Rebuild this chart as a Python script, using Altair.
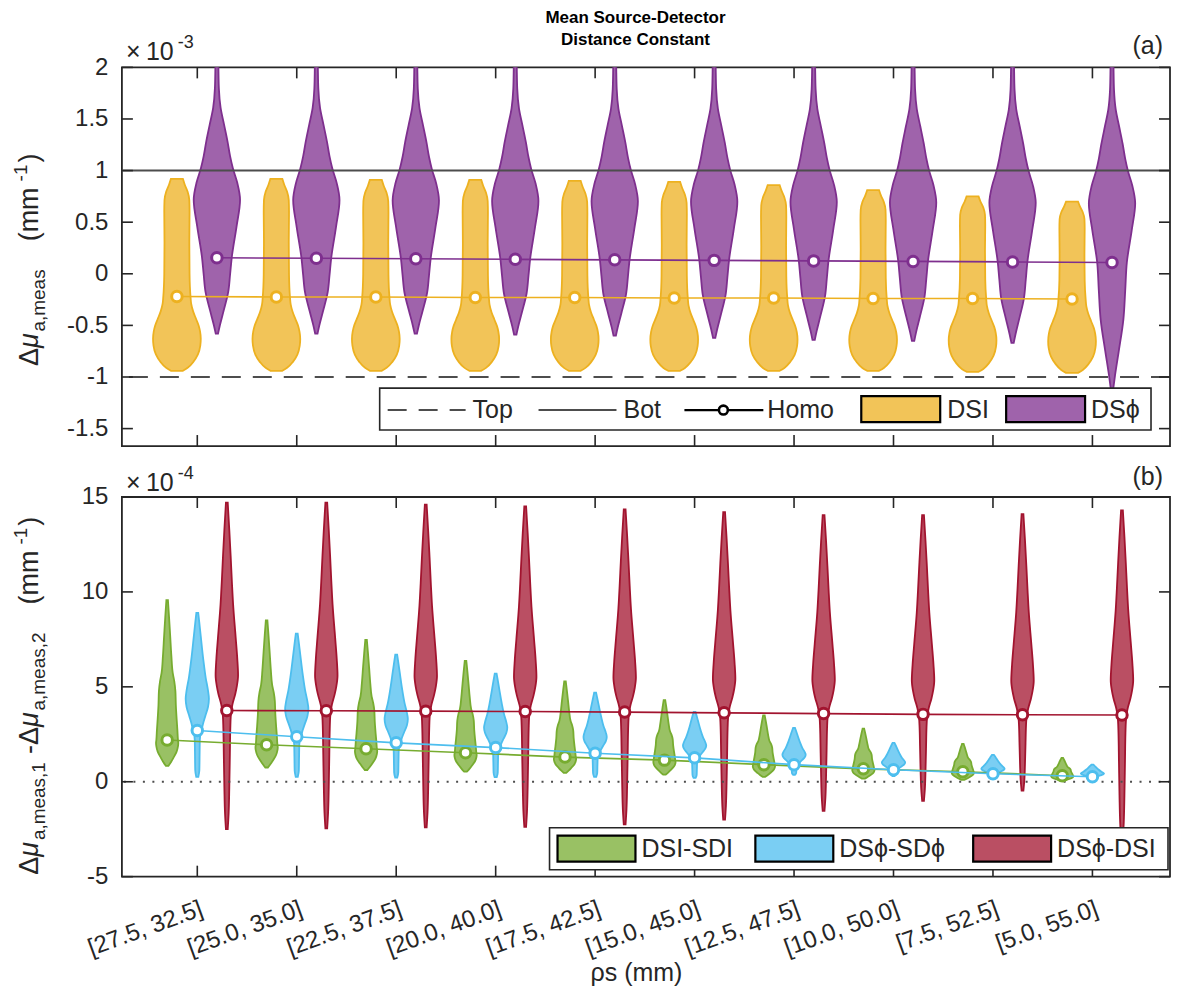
import json
import altair as alt
import pandas as pd

# ---------------- data ----------------
groups = ["[27.5, 32.5]", "[25.0, 35.0]", "[22.5, 37.5]", "[20.0, 40.0]", "[17.5, 42.5]",
          "[15.0, 45.0]", "[12.5, 47.5]", "[10.0, 50.0]", "[7.5, 52.5]", "[5.0, 55.0]"]

# panel (a), units of 1e-3 mm^-1
dsi_bottom = [-0.94, -0.94, -0.94, -0.94, -0.94, -0.94, -0.94, -0.94, -0.95, -0.96]
dsi_median = [-0.22, -0.225, -0.225, -0.23, -0.23, -0.235, -0.235, -0.24, -0.24, -0.245]
dsi_top = [0.92, 0.92, 0.91, 0.91, 0.90, 0.89, 0.86, 0.81, 0.75, 0.70]

dsphi_bottom = [-0.58, -0.58, -0.58, -0.59, -0.60, -0.62, -0.64, -0.65, -0.67, -1.12]
dsphi_median = [0.155, 0.15, 0.145, 0.14, 0.135, 0.13, 0.125, 0.12, 0.115, 0.11]
dsphi_top = [2.5, 2.5, 2.5, 2.5, 2.5, 2.5, 2.5, 2.5, 2.5, 2.5]

ref_top = [-1.0]   # dashed
ref_bot = [1.0]    # solid

# panel (b), units of 1e-4 mm^-1
g_bottom = [0.84, 0.75, 0.62, 0.53, 0.47, 0.38, 0.26, 0.16, 0.10, 0.05]
g_median = [2.2, 1.95, 1.74, 1.53, 1.3, 1.14, 0.9, 0.68, 0.53, 0.32]
g_top = [9.56, 8.5, 7.47, 6.37, 5.28, 4.3, 3.5, 2.8, 2.0, 1.26]

b_bottom = [0.26, 0.26, 0.22, 0.24, 0.26, 0.2, 0.37, 0.3, 0.15, 0.1]
b_median = [2.7, 2.37, 2.05, 1.8, 1.5, 1.26, 0.9, 0.63, 0.42, 0.26]
b_top = [8.9, 7.8, 6.7, 5.7, 4.7, 3.68, 2.84, 2.05, 1.42, 0.9]

r_bottom = [-2.5, -2.45, -2.4, -2.37, -2.25, -2.0, -1.53, -1.0, -0.47, -3.0]
r_median = [3.75, 3.74, 3.72, 3.70, 3.67, 3.63, 3.59, 3.55, 3.53, 3.52]
r_top = [14.7, 14.7, 14.6, 14.5, 14.35, 14.2, 14.05, 14.05, 14.1, 14.3]

ref_zero = [0.0]

# violin outlines: s=-1 bottom, 0 median, 1 top; w = relative half width
dsi_s = [-1, -0.96, -0.875, -0.78, -0.66, -0.57, -0.47, -0.39, -0.3, -0.2, -0.1, 0, 0.19, 0.46, 0.72, 0.82, 0.89, 0.95, 1]
dsi_w = [0.25, 0.45, 0.70, 0.88, 0.98, 1.0, 0.97, 0.91, 0.8, 0.68, 0.6, 0.57, 0.53, 0.52, 0.53, 0.52, 0.45, 0.33, 0.25]
dsphi_s = [-1, -0.89, -0.70, -0.45, -0.22, 0, 0.13, 0.24, 0.31, 0.37, 0.42, 0.48, 0.55, 0.62, 0.70, 0.79, 1]
dsphi_w = [0.05, 0.13, 0.29, 0.49, 0.57, 0.64, 0.85, 1.0, 0.88, 0.69, 0.57, 0.46, 0.31, 0.16, 0.086, 0.065, 0.04]
g_s = [-1, -0.85, -0.7, -0.45, -0.25, -0.12, 0, 0.07, 0.14, 0.25, 0.35, 0.42, 0.48, 0.6, 0.75, 0.88, 1]
g_w = [0.12, 0.35, 0.55, 0.85, 0.97, 1.0, 0.97, 0.92, 0.86, 0.78, 0.74, 0.64, 0.5, 0.38, 0.27, 0.17, 0.07]
b_s = [-1, -0.85, -0.5, -0.2, -0.05, 0, 0.06, 0.12, 0.2, 0.27, 0.34, 0.45, 0.6, 0.8, 0.92, 1]
b_w = [0.09, 0.18, 0.2, 0.22, 0.3, 0.36, 0.5, 0.68, 0.92, 1.0, 0.92, 0.72, 0.52, 0.3, 0.17, 0.08]
r_s = [-1, -0.87, -0.65, -0.37, -0.15, -0.05, 0, 0.03, 0.08, 0.12, 0.17, 0.25, 0.35, 0.51, 0.62, 0.745, 0.87, 1]
r_w = [0.08, 0.16, 0.22, 0.27, 0.31, 0.35, 0.4, 0.5, 0.75, 0.9, 1.0, 0.93, 0.79, 0.56, 0.45, 0.34, 0.22, 0.08]

# ---------------- helpers ----------------
W, H1, H2 = 1049, 379, 380
AX = "#262626"
FONT = "Liberation Sans"
FS = 24
xs = alt.Scale(domain=[0.242, 10.78], nice=False, zero=False)
ys1 = alt.Scale(domain=[-1.669, 2], nice=False, zero=False)
ys2 = alt.Scale(domain=[-5, 15], nice=False, zero=False)

label_arr = json.dumps(groups)
xaxis_b = alt.Axis(values=list(range(1, 11)), labelExpr=label_arr + "[datum.value - 1]",
                   labelAngle=340, labelAlign="right", labelBaseline="top", labelPadding=20,
                   labelOverlap=False, labelBound=False,
                   labelFontSize=FS, labelColor=AX, labelFont=FONT, ticks=False, domain=False,
                   grid=False, title=None)
yaxis1 = alt.Axis(values=[-1.5, -1, -0.5, 0, 0.5, 1, 1.5, 2], labelExpr="'' + datum.value",
                  labelFontSize=FS, labelColor=AX, labelFont=FONT, labelPadding=14, ticks=False,
                  labelOverlap=False, domain=False, grid=False, title=None)
yaxis2 = alt.Axis(values=[-5, 0, 5, 10, 15], labelExpr="'' + datum.value",
                  labelFontSize=FS, labelColor=AX, labelFont=FONT, labelPadding=14, ticks=False,
                  labelOverlap=False, domain=False, grid=False, title=None)


def violin_df(name, bottoms, medians, tops, prof_s, prof_w, offset, half):
    rows = []
    for i in range(len(groups)):
        c = i + 1 + offset
        for k, (s, w) in enumerate(zip(prof_s, prof_w)):
            if s < 0:
                y = medians[i] + s * (medians[i] - bottoms[i])
            else:
                y = medians[i] + s * (tops[i] - medians[i])
            rows.append({"vid": f"{name}{i}", "idx": k, "y": y,
                         "xl": c - w * half, "xr": c + w * half})
    return pd.DataFrame(rows)


def med_df(medians, offset):
    return pd.DataFrame({"x": [i + 1 + offset for i in range(len(groups))], "y": medians})


def violin_layer(df, fill, stroke, ys, xaxis, yaxis):
    return alt.Chart(df).mark_area(orient="horizontal", interpolate="monotone", fill=fill,
                                   fillOpacity=1, stroke=stroke, strokeWidth=1.8, clip=True).encode(
        y=alt.Y("y:Q", scale=ys, axis=yaxis),
        x=alt.X("xl:Q", scale=xs, axis=xaxis),
        x2="xr:Q",
        detail="vid:N",
    )


def med_layers(df, color, ys, xaxis, yaxis):
    line = alt.Chart(df).mark_line(color=color, strokeWidth=1.6, clip=True).encode(
        x=alt.X("x:Q", scale=xs, axis=xaxis), y=alt.Y("y:Q", scale=ys, axis=yaxis))
    pts = alt.Chart(df).mark_circle(fill="white", stroke=color, strokeWidth=3, size=110,
                                    opacity=1, clip=True).encode(
        x=alt.X("x:Q", scale=xs, axis=xaxis), y=alt.Y("y:Q", scale=ys, axis=yaxis))
    return [line, pts]


one = pd.DataFrame({"k": [0]})


def txt(t, x, y, size=FS, align="left", baseline="alphabetic", weight="normal", color=AX,
        angle=0, dx=0, dy=0, style="normal"):
    kw = dict(text=t, align=align, baseline=baseline, fontSize=size, font=FONT,
              fontWeight=weight, color=color, fontStyle=style)
    if angle:
        kw["angle"] = angle
    if dx:
        kw["dx"] = dx
    if dy:
        kw["dy"] = dy
    return alt.Chart(one).mark_text(**kw).encode(x=alt.value(x), y=alt.value(y))


# approximate Arial advance widths (em) used to lay out the rotated axis titles
EM = {"Δ": .668, "μ": .576, "a": .556, "m": .833, "e": .556, "s": .5, ",": .278, "1": .556,
      "2": .556, "-": .333, "(": .333, ")": .333, " ": .278}


def rotated_title(pieces, x_base, y_start):
    """pieces: (text, size, dy, style, gap_before) laid out upward along a 270° baseline."""
    out, acc = [], 0.0
    for t, size, dy, style, gap in pieces:
        acc += gap
        out.append(txt(t, x_base, y_start, size, angle=270, dx=acc, dy=dy, style=style))
        acc += sum(EM.get(ch, .55) for ch in t) * size
    return out


MAIN, SUB = 27, 19


def ytitle_pieces(sub_parts):
    p = []
    for j, sub in enumerate(sub_parts):
        if j > 0:
            p.append(("-", MAIN, 0, "normal", 8))
        p.append(("Δ", MAIN, 0, "normal", 0))
        p.append(("μ", MAIN, 0, "italic", 0))
        p.append((sub, SUB, 7, "normal", 1))
    p += [("(mm", MAIN, 0, "normal", 28), ("-1", SUB, -11, "normal", 6), (")", MAIN, 0, "normal", 2)]
    return p


def box(x, x2, y, y2, fill, stroke=AX, sw=1.6):
    return alt.Chart(one).mark_rect(fill=fill, stroke=stroke, strokeWidth=sw).encode(
        x=alt.value(x), x2=alt.value(x2), y=alt.value(y), y2=alt.value(y2))


def seg(x, x2, y, color, sw=2, dash=None):
    kw = dict(color=color, strokeWidth=sw)
    if dash:
        kw["strokeDash"] = dash
    return alt.Chart(one).mark_rule(**kw).encode(x=alt.value(x), x2=alt.value(x2), y=alt.value(y))


def frame_ticks(ys, yvals, xaxis, yaxis, H):
    tx = pd.DataFrame({"x": list(range(1, 11))})
    ty = pd.DataFrame({"y": yvals})
    L = 11
    out = []
    for (a, b) in [(0, L), (H - L, H)]:
        out.append(alt.Chart(tx).mark_rule(color=AX, strokeWidth=1.6).encode(
            x=alt.X("x:Q", scale=xs, axis=xaxis), y=alt.value(a), y2=alt.value(b)))
    for (a, b) in [(0, L), (W - L, W)]:
        out.append(alt.Chart(ty).mark_rule(color=AX, strokeWidth=1.6).encode(
            y=alt.Y("y:Q", scale=ys, axis=yaxis), x=alt.value(a), x2=alt.value(b)))
    return out


LF = 25  # legend font

# ---------------- panel (a) ----------------
C_DSI, F_DSI = "#EDB120", "#F2C458"
C_PHI, F_PHI = "#7E2F8E", "#9F63AB"
REF = "#4D4D4D"

xa = None
top_layers = [
    violin_layer(violin_df("dsi", dsi_bottom, dsi_median, dsi_top, dsi_s, dsi_w, -0.205, 0.24),
                 F_DSI, C_DSI, ys1, xa, yaxis1),
    violin_layer(violin_df("phi", dsphi_bottom, dsphi_median, dsphi_top, dsphi_s, dsphi_w, 0.197, 0.233),
                 F_PHI, C_PHI, ys1, xa, yaxis1),
    alt.Chart(pd.DataFrame({"y": ref_bot})).mark_rule(color=REF, strokeWidth=2).encode(
        y=alt.Y("y:Q", scale=ys1, axis=yaxis1)),
    alt.Chart(pd.DataFrame({"y": ref_top})).mark_rule(color=REF, strokeWidth=2, strokeDash=[19, 12]).encode(
        y=alt.Y("y:Q", scale=ys1, axis=yaxis1)),
]
top_layers += med_layers(med_df(dsi_median, -0.205), C_DSI, ys1, xa, yaxis1)
top_layers += med_layers(med_df(dsphi_median, 0.197), C_PHI, ys1, xa, yaxis1)
top_layers += frame_ticks(ys1, [-1.5, -1, -0.5, 0, 0.5, 1, 1.5, 2], xa, yaxis1, H1)
# legend (a)
top_layers += [
    box(258, 1030, 321, 363, "white"),
    seg(266, 344, 343, REF, 2, [19, 12]), txt("Top", 351, 343, LF, baseline="middle"),
    seg(417, 495, 343, REF, 2), txt("Bot", 502, 343, LF, baseline="middle"),
    seg(563, 642, 343, "black", 2.2),
    alt.Chart(one).mark_circle(fill="white", stroke="black", strokeWidth=2.6, size=80, opacity=1).encode(
        x=alt.value(602), y=alt.value(343)),
    txt("Homo", 646, 343, LF, baseline="middle"),
    box(740, 819, 329, 355, F_DSI, "black", 2.2), txt("DSI", 826, 343, LF, baseline="middle"),
    box(885, 964, 329, 355, F_PHI, "black", 2.2), txt("DSϕ", 970, 343, LF, baseline="middle"),
]
# annotations (a)
top_layers += [
    txt("Mean Source-Detector", 514, -44, 17, align="center", weight="bold", color="black"),
    txt("Distance Constant", 514, -22, 17, align="center", weight="bold", color="black"),
    txt("×", 4, -7, 25), txt("10", 24, -7, 25), txt("-3", 56, -19, 18),
    txt("(a)", W - 7, -13, 25, align="right"),
]
top_layers += rotated_title(ytitle_pieces(["a,meas"]), -84, 299)
top = alt.layer(*top_layers).properties(width=W, height=H1)

# ---------------- panel (b) ----------------
C_G, F_G = "#77AC30", "#99C164"
C_B, F_B = "#4DBEEE", "#7ACEF3"
C_R, F_R = "#A2142F", "#BA4F63"

xb = xaxis_b
bot_layers = [
    violin_layer(violin_df("g", g_bottom, g_median, g_top, g_s, g_w, -0.303, 0.112), F_G, C_G, ys2, xb, yaxis2),
    violin_layer(violin_df("b", b_bottom, b_median, b_top, b_s, b_w, 0.0, 0.117), F_B, C_B, ys2, xb, yaxis2),
    violin_layer(violin_df("r", r_bottom, r_median, r_top, r_s, r_w, 0.297, 0.113), F_R, C_R, ys2, xb, yaxis2),
    alt.Chart(pd.DataFrame({"y": ref_zero})).mark_rule(color=REF, strokeWidth=2, strokeDash=[2, 7.5]).encode(
        y=alt.Y("y:Q", scale=ys2, axis=yaxis2)),
]
bot_layers += med_layers(med_df(g_median, -0.303), C_G, ys2, xb, yaxis2)
bot_layers += med_layers(med_df(b_median, 0.0), C_B, ys2, xb, yaxis2)
bot_layers += med_layers(med_df(r_median, 0.297), C_R, ys2, xb, yaxis2)
bot_layers += frame_ticks(ys2, [-5, 0, 5, 10, 15], xb, yaxis2, H2)
bot_layers += [
    box(428, W - 2, 331, 373, "white"),
    box(436, 514, 339, 365, F_G, "black", 2.2), txt("DSI-SDI", 520, 352, LF, baseline="middle"),
    box(634, 712, 339, 365, F_B, "black", 2.2), txt("DSϕ-SDϕ", 718, 352, LF, baseline="middle"),
    box(852, 930, 339, 365, F_R, "black", 2.2), txt("DSϕ-DSI", 936, 352, LF, baseline="middle"),
    txt("×", 4, -6, 25), txt("10", 24, -6, 25), txt("-4", 56, -18, 18),
    txt("(b)", W - 7, -12, 25, align="right"),
    txt("ρs (mm)", 515, 476, 25, align="center", baseline="middle"),
]
bot_layers += rotated_title(ytitle_pieces(["a,meas,1", "a,meas,2"]), -84, 378)
bottom = alt.layer(*bot_layers).properties(width=W, height=H2)

chart = alt.vconcat(top, bottom, spacing=51, bounds="flush").properties(
    padding={"left": 3, "top": 0, "right": 0, "bottom": 0}
).configure(font=FONT).configure_view(stroke=AX, strokeWidth=1.8)

chart.save("out.html", embed_options={"renderer": "svg", "actions": False})
